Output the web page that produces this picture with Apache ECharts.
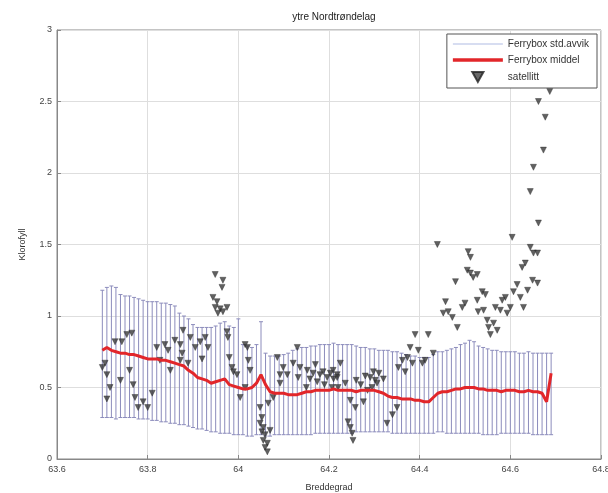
<!DOCTYPE html>
<html>
<head>
<meta charset="utf-8">
<script src="https://cdn.jsdelivr.net/npm/echarts@6/dist/echarts.min.js"></script>
<style>html,body{margin:0;padding:0;background:#fff}#c{width:608px;height:493px}</style>
</head>
<body>
<div id="c"></div>
<script>
const chartTitle = 'ytre Nordtrøndelag';
const xName = 'Breddegrad';
const yName = 'Klorofyll';
const legendNames = ['Ferrybox std.avvik', 'Ferrybox middel', 'satellitt'];

const ferryLat = [63.70,63.71,63.72,63.73,63.74,63.75,63.76,63.77,63.78,63.79,
63.80,63.81,63.82,63.83,63.84,63.85,63.86,63.87,63.88,63.89,
63.90,63.91,63.92,63.93,63.94,63.95,63.96,63.97,63.98,63.99,
64.00,64.01,64.02,64.03,64.04,64.05,64.06,64.07,64.08,64.09,
64.10,64.11,64.12,64.13,64.14,64.15,64.16,64.17,64.18,64.19,
64.20,64.21,64.22,64.23,64.24,64.25,64.26,64.27,64.28,64.29,
64.30,64.31,64.32,64.33,64.34,64.35,64.36,64.37,64.38,64.39,
64.40,64.41,64.42,64.43,64.44,64.45,64.46,64.47,64.48,64.49,
64.50,64.51,64.52,64.53,64.54,64.55,64.56,64.57,64.58,64.59,
64.60,64.61,64.62,64.63,64.64,64.65,64.66,64.67,64.68,64.69];

const ferryMean = [0.76,0.78,0.76,0.75,0.74,0.74,0.73,0.73,0.72,0.71,
0.70,0.70,0.70,0.69,0.69,0.68,0.67,0.66,0.65,0.62,
0.60,0.57,0.56,0.55,0.53,0.54,0.55,0.56,0.52,0.51,
0.50,0.49,0.49,0.50,0.53,0.59,0.52,0.47,0.46,0.46,
0.46,0.45,0.45,0.45,0.46,0.47,0.47,0.48,0.48,0.48,
0.48,0.49,0.48,0.48,0.48,0.48,0.47,0.48,0.48,0.48,
0.48,0.47,0.46,0.44,0.43,0.43,0.42,0.42,0.42,0.41,
0.41,0.40,0.40,0.43,0.46,0.47,0.47,0.48,0.49,0.49,
0.50,0.50,0.50,0.49,0.49,0.48,0.48,0.48,0.47,0.48,
0.48,0.48,0.47,0.47,0.48,0.47,0.47,0.46,0.40,0.60];

const ferryHigh = [1.18,1.20,1.21,1.20,1.15,1.14,1.14,1.13,1.12,1.11,
1.10,1.10,1.10,1.09,1.09,1.08,1.07,1.02,1.00,0.98,
0.94,0.92,0.92,0.92,0.92,0.93,0.95,0.96,0.93,0.92,
0.98,0.80,0.79,0.78,0.80,0.96,0.74,0.72,0.72,0.72,
0.73,0.74,0.76,0.77,0.78,0.78,0.79,0.79,0.80,0.80,
0.80,0.81,0.80,0.80,0.80,0.80,0.79,0.78,0.78,0.77,
0.77,0.76,0.76,0.76,0.75,0.75,0.74,0.73,0.72,0.72,
0.71,0.71,0.71,0.73,0.75,0.75,0.76,0.77,0.78,0.80,
0.81,0.83,0.82,0.79,0.78,0.77,0.76,0.76,0.75,0.75,
0.75,0.75,0.74,0.74,0.75,0.74,0.74,0.74,0.74,0.74];

const ferryLow = [0.29,0.29,0.29,0.28,0.29,0.29,0.29,0.29,0.28,0.28,
0.28,0.27,0.27,0.26,0.26,0.25,0.25,0.24,0.24,0.23,
0.22,0.21,0.21,0.20,0.19,0.19,0.18,0.18,0.18,0.17,
0.17,0.17,0.16,0.16,0.17,0.17,0.16,0.16,0.17,0.17,
0.17,0.17,0.17,0.17,0.17,0.17,0.17,0.18,0.18,0.18,
0.18,0.18,0.18,0.18,0.18,0.18,0.19,0.19,0.19,0.19,
0.19,0.19,0.19,0.19,0.18,0.18,0.18,0.18,0.18,0.18,
0.18,0.18,0.18,0.18,0.19,0.19,0.18,0.18,0.18,0.18,
0.18,0.18,0.18,0.18,0.17,0.17,0.17,0.17,0.18,0.18,
0.18,0.18,0.18,0.18,0.18,0.17,0.17,0.17,0.17,0.17];

const satLat = [63.706,63.71,63.717,63.70,63.728,63.743,63.754,63.765,63.76,63.768,
63.772,63.779,63.81,63.82,63.827,63.838,63.845,63.86,63.872,63.876,
63.878,63.894,63.905,63.916,63.927,63.933,63.872,63.889,63.949,63.966,
63.944,63.953,63.949,63.96,63.966,63.955,63.975,63.964,63.975,63.977,
63.986,63.989,63.98,63.997,64.004,64.015,64.02,64.022,64.026,64.015,
64.048,64.052,64.048,64.055,64.052,64.059,64.055,64.064,64.059,64.064,
64.07,64.066,64.086,64.099,64.108,64.092,64.121,64.136,64.152,64.165,
64.18,64.196,64.21,64.158,64.174,64.187,64.203,64.218,64.132,64.092,
64.077,63.71,63.80,63.79,64.13,63.74,63.92,63.85,
64.209,64.218,64.225,64.207,64.236,64.247,64.258,64.242,64.247,64.251,
64.253,64.276,64.291,64.298,64.302,64.306,64.295,64.328,64.34,64.35,
64.353,64.362,64.368,64.373,64.379,64.384,64.39,64.397,64.406,64.412,
64.419,64.43,64.439,64.457,64.452,64.463,64.472,64.483,64.479,64.494,
64.5,64.505,64.512,64.518,64.507,64.512,64.527,64.538,64.545,64.527,
64.529,64.541,64.549,64.552,64.563,64.556,64.571,64.567,64.578,64.582,
64.589,64.593,64.6,64.604,64.607,64.615,64.622,64.629,64.626,64.633,
64.644,64.651,64.649,64.66,64.662,64.638,
64.687,64.662,64.677,64.673,64.651,64.644,64.66,
64.26,64.27,64.28,64.285,64.31,64.32,64.15,64.19,64.22,64.17];

const satVal = [0.67,0.59,0.50,0.64,0.82,0.82,0.87,0.88,0.62,0.52,
0.43,0.36,0.46,0.78,0.69,0.80,0.76,0.83,0.80,0.74,
0.90,0.85,0.78,0.82,0.85,0.78,0.69,0.67,1.29,1.25,
1.13,1.10,1.06,1.05,1.03,1.02,1.06,1.20,0.89,0.85,
0.64,0.61,0.71,0.59,0.43,0.80,0.78,0.69,0.62,0.50,
0.36,0.29,0.25,0.22,0.19,0.17,0.13,0.11,0.08,0.05,
0.20,0.39,0.71,0.64,0.59,0.59,0.67,0.64,0.62,0.60,
0.59,0.57,0.56,0.56,0.54,0.61,0.60,0.59,0.57,0.53,
0.43,0.42,0.36,0.40,0.78,0.55,0.70,0.62,
0.62,0.57,0.67,0.50,0.53,0.41,0.36,0.26,0.22,0.18,
0.13,0.40,0.57,0.61,0.55,0.53,0.50,0.25,0.31,0.36,
0.64,0.69,0.61,0.71,0.78,0.67,0.87,0.76,0.67,0.69,
0.87,0.74,1.50,1.10,1.02,1.03,0.99,0.92,1.24,1.06,
1.09,1.32,1.30,1.27,1.45,1.41,1.29,1.17,1.15,1.11,
1.03,1.04,0.97,0.92,0.95,0.87,0.90,1.06,1.04,1.11,
1.13,1.02,1.06,1.55,1.17,1.22,1.13,1.06,1.34,1.37,
1.48,1.44,1.25,1.23,1.65,1.18,
2.57,2.50,2.39,2.16,2.04,1.87,1.44,
0.55,0.52,0.58,0.48,0.60,0.56,0.50,0.52,0.50,0.66];

const xTicks = {min: 63.6, max: 64.8, step: 0.2};
const yTicks = {min: 0, max: 3, step: 0.5};

const chart = echarts.init(document.getElementById('c'), null, {renderer: 'canvas'});
const font = 'Liberation Sans, Arial, sans-serif';
const barColor = '#8c8cbc';

const errData = ferryLat.map((l, i) => [l, ferryLow[i], ferryHigh[i]]);
const meanData = ferryLat.map((l, i) => [l, ferryMean[i]]);
const satData = satLat.map((l, i) => [l, satVal[i]]);

chart.setOption({
  animation: false,
  backgroundColor: '#fff',
  title: {
    text: chartTitle, left: 329, top: 7, textAlign: 'center',
    textStyle: {fontFamily: font, fontSize: 10, fontWeight: 'normal', color: '#222'}
  },
  grid: {left: 57, right: 7, top: 30, bottom: 34, show: true, borderColor: '#888', borderWidth: 1,
    backgroundColor: '#fff', containLabel: false, outerBoundsMode: 'none'},
  legend: {
    orient: 'vertical', right: 11, top: 34,
    backgroundColor: '#fff', borderColor: '#555', borderWidth: 1, borderRadius: 0,
    padding: [5, 8, 5, 6], itemGap: 6, itemWidth: 50, itemHeight: 10,
    textStyle: {fontFamily: font, fontSize: 10, color: '#333'},
    data: [
      {name: legendNames[0], icon: 'path://M0,0H100V2H0Z', itemStyle: {color: '#b0bce4'}},
      {name: legendNames[1], icon: 'path://M0,0H100V7H0Z', itemStyle: {color: '#e2262a'}},
      {name: legendNames[2], icon: 'path://M0,0L10,0L5,9Z', itemStyle: {color: '#444'}}
    ]
  },
  xAxis: {
    type: 'value', min: xTicks.min, max: xTicks.max, interval: xTicks.step,
    name: xName, nameLocation: 'middle', nameGap: 24,
    nameTextStyle: {fontFamily: font, fontSize: 9, color: '#333'},
    axisLine: {lineStyle: {color: '#888'}},
    axisTick: {inside: true, length: 4, lineStyle: {color: '#888'}},
    axisLabel: {fontFamily: font, fontSize: 9, color: '#444', margin: 6,
      formatter: v => String(+v.toFixed(1))},
    splitLine: {show: true, lineStyle: {color: '#dedede', width: 1}}
  },
  yAxis: {
    type: 'value', min: yTicks.min, max: yTicks.max, interval: yTicks.step,
    name: yName, nameLocation: 'middle', nameGap: 30,
    nameTextStyle: {fontFamily: font, fontSize: 9, color: '#333'},
    axisLine: {show: true, lineStyle: {color: '#888'}},
    axisTick: {show: true, inside: true, length: 4, lineStyle: {color: '#888'}},
    axisLabel: {fontFamily: font, fontSize: 9, color: '#444', margin: 5},
    splitLine: {show: true, lineStyle: {color: '#dedede', width: 1}}
  },
  series: [
    {
      name: legendNames[0], type: 'custom', data: errData,
      encode: {x: 0, y: [1, 2]},
      itemStyle: {color: '#b0bce4'},
      z: 2,
      renderItem: function (params, api) {
        const x = api.value(0);
        const lo = api.coord([x, api.value(1)]);
        const hi = api.coord([x, api.value(2)]);
        const w = 2;
        const st = {stroke: barColor, lineWidth: 1};
        return {
          type: 'group',
          children: [
            {type: 'line', shape: {x1: lo[0], y1: lo[1], x2: hi[0], y2: hi[1]}, style: st},
            {type: 'line', shape: {x1: hi[0] - w, y1: hi[1], x2: hi[0] + w, y2: hi[1]}, style: st},
            {type: 'line', shape: {x1: lo[0] - w, y1: lo[1], x2: lo[0] + w, y2: lo[1]}, style: st}
          ]
        };
      }
    },
    {
      name: legendNames[2], type: 'scatter', data: satData,
      symbol: 'triangle', symbolRotate: 180, symbolSize: 6,
      itemStyle: {color: '#3a3a3a', borderColor: '#222', borderWidth: 0.5},
      z: 3
    },
    {
      name: legendNames[1], type: 'line', data: meanData,
      symbol: 'none', showSymbol: false,
      lineStyle: {color: '#e2262a', width: 3},
      itemStyle: {color: '#e2262a'},
      z: 4
    }
  ]
});
</script>
</body>
</html>
